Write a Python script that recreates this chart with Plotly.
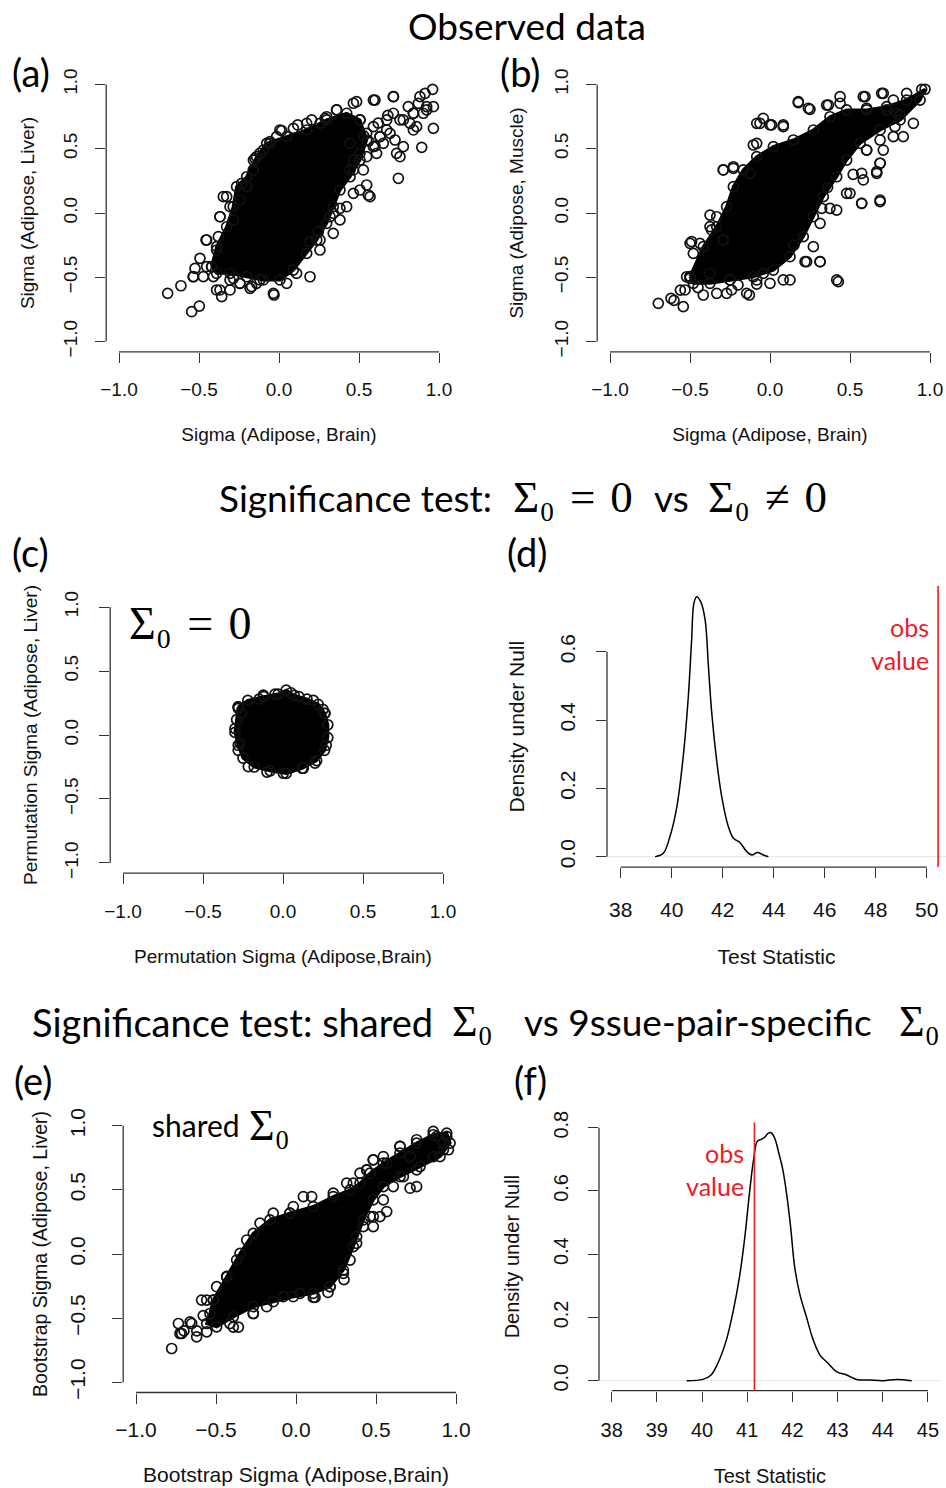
import plotly.graph_objects as go

W, H = 946, 1488

# ------------------------------------------------------------------ data
sig_ticks = [-1.0, -0.5, 0.0, 0.5, 1.0]
sig_ticktext = ["\u22121.0", "\u22120.5", "0.0", "0.5", "1.0"]

# (a) Sigma(Adipose,Brain) vs Sigma(Adipose,Liver): dense core outline + visible circles
a_core_x = [-0.421, -0.39, -0.327, -0.286, -0.265, -0.202, -0.14, -0.077, 0.048, 0.173, 0.298,
            0.423, 0.506, 0.548, 0.506, 0.444, 0.381, 0.339, 0.298, 0.236, 0.173, 0.089, 0.006,
            -0.098, -0.202, -0.306, -0.39]
a_core_y = [-0.418, -0.262, -0.107, 0.049, 0.205, 0.282, 0.438, 0.542, 0.594, 0.646, 0.724,
            0.776, 0.724, 0.568, 0.412, 0.282, 0.179, 0.049, -0.08, -0.21, -0.314, -0.444, -0.521,
            -0.521, -0.496, -0.469, -0.469]
a_pts_x = [-0.696, -0.613, -0.546, -0.498, -0.525, -0.535, -0.473, -0.369, -0.358, -0.306, -0.244,
           -0.171, -0.031, -0.119, -0.41, -0.456, -0.39, -0.369, -0.327, -0.244, -0.285, -0.202,
           -0.16, -0.098, -0.056, 0.017, 0.117, 0.204, 0.288, 0.36, 0.485, 0.6, 0.715, 0.808,
           0.871, 0.913, 0.96, 0.902, 0.965, 0.892, 0.84, 0.777, 0.746, 0.558, 0.548, 0.527,
           0.465, 0.381, 0.465, 0.61, 0.652, 0.694, 0.756, 0.725, 0.777, 0.819, 0.673, 0.59,
           0.444, 0.34, 0.246, 0.194, 0.506, 0.548, 0.631, 0.735, 0.86, 0.84, 0.923, 0.881,
           0.715, 0.444, 0.506, 0.56, 0.62, 0.68, 0.53, 0.6, -0.379, -0.306, -0.233, -0.15,
           -0.015, 0.09, 0.256, 0.319, 0.256, 0.11, -0.14, -0.285, -0.452,
           -0.348, -0.369, -0.452, -0.494, -0.536, -0.39, -0.306, -0.244, -0.181, -0.035, 0.048,
           0.194, 0.256, 0.339, 0.381, 0.423, 0.506, 0.569, 0.465, 0.548, 0.59, 0.631, 0.673,
           0.756, 0.84, 0.923, 0.965, 0.715, 0.59, 0.465, 0.36, 0.298, 0.173, 0.006, -0.056,
           -0.119, -0.161]
a_pts_y = [-0.625, -0.566, -0.768, -0.724, -0.431, -0.495, -0.495, -0.599, -0.651, -0.599, -0.547,
           -0.573, -0.638, -0.521, -0.495, -0.21, -0.288, -0.029, 0.127, 0.101, -0.054, 0.205,
           0.412, 0.49, 0.555, 0.641, 0.685, 0.724, 0.737, 0.802, 0.866, 0.879, 0.905, 0.828,
           0.853, 0.931, 0.962, 0.776, 0.659, 0.511, 0.646, 0.724, 0.27, 0.14, 0.218, 0.335,
           0.412, 0.036, 0.153, 0.464, 0.542, 0.62, 0.438, 0.568, 0.516, 0.698, 0.724, 0.672,
           0.335, -0.003, -0.145, -0.223, 0.724, 0.62, 0.594, 0.464, 0.672, 0.776, 0.828, 0.905,
           0.776, 0.542, 0.464, 0.56, 0.7, 0.76, 0.6, 0.52, -0.184, 0.049, 0.231, 0.425,
           0.594, 0.659, 0.698, -0.029, -0.21, -0.47, -0.547, -0.508, -0.418,
           0.127, -0.029, -0.21, -0.353, -0.496, -0.599, -0.521, -0.547, -0.586, -0.625, -0.547,
           -0.496, -0.288, -0.158, -0.054, 0.049, 0.179, 0.127, 0.335, 0.438, 0.516, 0.594, 0.646,
           0.724, 0.776, 0.802, 0.827, 0.905, 0.879, 0.854, 0.802, 0.749, 0.698, 0.646, 0.542,
           0.465, 0.335]

# (b) Sigma(Adipose,Brain) vs Sigma(Adipose,Muscle)
b_core_x = [-0.5, -0.417, -0.333, -0.271, -0.229, -0.167, -0.083, 0.021, 0.146, 0.271, 0.375,
            0.479, 0.604, 0.729, 0.854, 0.969, 0.938, 0.813, 0.688, 0.563, 0.479, 0.417, 0.333,
            0.271, 0.208, 0.125, 0.021, -0.104, -0.25, -0.375, -0.479]
b_core_y = [-0.495, -0.262, -0.107, 0.049, 0.205, 0.335, 0.438, 0.516, 0.568, 0.646, 0.749,
            0.802, 0.802, 0.827, 0.879, 0.963, 0.879, 0.724, 0.646, 0.542, 0.412, 0.282, 0.127,
            -0.029, -0.184, -0.34, -0.444, -0.496, -0.521, -0.547, -0.547]
b_pts_x = [-0.698, -0.619, -0.542, -0.531, -0.5, -0.417, -0.333, -0.271, -0.24, -0.129, -0.083,
           0.0, 0.083, -0.042, 0.313, 0.219, 0.427, 0.573, 0.688, 0.583, 0.667, 0.688, 0.708,
           0.604, 0.479, 0.375, 0.323, -0.375, -0.375, -0.49, -0.438, -0.292, -0.229, -0.104,
           -0.083, -0.042, 0.01, 0.083, 0.177, 0.25, 0.365, 0.438, 0.594, 0.698, 0.771, 0.813,
           0.833, 0.781, 0.729, 0.854, 0.948, -0.56, -0.6, -0.45, 0.52, 0.36, 0.15, -0.2,
           -0.063, 0.0, -0.083, 0.083, 0.177, 0.24, 0.354, 0.438, 0.583, 0.708, 0.604, 0.792,
           0.896, 0.771, 0.688, 0.604, 0.688, 0.667, 0.573, 0.573, 0.688, 0.5, 0.417, 0.313,
           0.271, 0.229, 0.313, 0.417, 0.125, -0.083, -0.146, -0.25, -0.375, -0.5, -0.479,
           -0.521, -0.292, -0.229, -0.125, -0.333, -0.365, -0.292]
b_pts_y = [-0.703, -0.664, -0.729, -0.599, -0.508, -0.638, -0.625, -0.625, -0.599, -0.638, -0.553,
           -0.547, -0.521, -0.47, -0.379, -0.379, -0.534, 0.075, 0.088, 0.257, 0.322, 0.387, 0.49,
           0.49, 0.153, 0.036, 0.036, -0.016, -0.106, -0.223, -0.236, 0.335, 0.348, 0.529,
           0.698, 0.737, 0.685, 0.672, 0.859, 0.807, 0.84, 0.905, 0.905, 0.931, 0.879, 0.763,
           0.594, 0.672, 0.802, 0.931, 0.962, -0.6, -0.68, -0.58, 0.3, 0.2, -0.25, -0.56,
           0.698, 0.685, 0.542, 0.685, 0.866, 0.815, 0.84, 0.854, 0.905, 0.931, 0.815, 0.776,
           0.698, 0.594, 0.568, 0.49, 0.387, 0.309, 0.309, 0.075, 0.101, 0.153, 0.023, -0.08,
           -0.262, -0.379, -0.379, -0.521, -0.521, -0.521, -0.625, -0.521, -0.469, -0.236, -0.314,
           -0.496, 0.335, 0.36, 0.309, -0.029, -0.132, -0.21]

# (c) permutation sigma
c_core_x = [-0.28, -0.22, -0.12, -0.03, 0.02, 0.07, 0.15, 0.22, 0.26, 0.28, 0.28, 0.26, 0.21,
            0.12, 0.02, -0.08, -0.18, -0.25, -0.28, -0.30, -0.29]
c_core_y = [0.22, 0.27, 0.30, 0.32, 0.35, 0.31, 0.28, 0.24, 0.17, 0.08, -0.02, -0.12, -0.2,
            -0.26, -0.30, -0.28, -0.25, -0.18, -0.08, 0.02, 0.12]
c_pts_x = [-0.279, -0.123, -0.05, -0.217, 0.002, 0.127, -0.269, 0.263, 0.19, -0.3, -0.28, 0.27,
           0.25, 0.1, -0.15, -0.1, 0.2, 0.05, -0.26]
c_pts_y = [0.208, 0.312, 0.319, -0.247, -0.299, -0.26, -0.065, 0.169, 0.27, 0.05, -0.12, -0.08,
           0.2, 0.3, 0.28, -0.29, -0.22, 0.33, 0.17]

# (d) null density, test statistic Sigma0 = 0
d_stat = [39.35, 39.67, 39.93, 40.20, 40.46, 40.65, 40.78, 40.87, 40.98, 41.14, 41.31, 41.44,
          41.57, 41.76, 41.96, 42.22, 42.42, 42.68, 42.94, 43.14, 43.36, 43.59, 43.79]
d_dens = [0.0, 0.01, 0.059, 0.146, 0.30, 0.468, 0.634, 0.742, 0.761, 0.746, 0.693, 0.556,
          0.42, 0.283, 0.176, 0.088, 0.054, 0.041, 0.015, 0.005, 0.012, 0.005, 0.0]
d_obs = 50.45
d_xticks = [38, 40, 42, 44, 46, 48, 50]
d_yticks = [0.0, 0.2, 0.4, 0.6]
d_yticktext = ["0.0", "0.2", "0.4", "0.6"]

# (e) bootstrap sigma
e_core_x = [-0.517, -0.433, -0.35, -0.267, -0.163, -0.038, 0.108, 0.233, 0.338, 0.4, 0.463,
            0.546, 0.65, 0.754, 0.858, 0.942, 0.963, 0.9, 0.775, 0.65, 0.546, 0.483, 0.421,
            0.358, 0.296, 0.213, 0.108, -0.017, -0.142, -0.267, -0.392, -0.496, -0.558, -0.538]
e_core_y = [-0.359, -0.177, 0.005, 0.161, 0.266, 0.318, 0.37, 0.448, 0.5, 0.552, 0.63, 0.708,
            0.786, 0.865, 0.93, 0.943, 0.865, 0.76, 0.682, 0.604, 0.526, 0.422, 0.266, 0.057,
            -0.125, -0.255, -0.307, -0.333, -0.372, -0.411, -0.49, -0.568, -0.542, -0.464]
e_pts_x = [-0.777, -0.735, -0.725, -0.662, -0.590, -0.496, -0.433, -0.392, -0.360, -0.267,
           -0.038, 0.046, 0.098, 0.108, 0.483, 0.567, 0.483, 0.379, 0.713, 0.754, 0.879, 0.921,
           0.952, 0.713, 0.650, 0.567, 0.483, 0.442, 0.400, 0.317, -0.62, -0.58, -0.7, 0.2, 0.3,
           -0.715, -0.652, -0.621, -0.558, -0.413, -0.267, -0.183, -0.079, 0.025, 0.119, 0.213,
           0.296, 0.338, 0.379, 0.421, 0.463, 0.525, 0.546, 0.608, 0.671, 0.754, 0.858, 0.921,
           0.942, 0.858, 0.754, 0.65, 0.546, 0.483, 0.442, 0.358, 0.233, -0.017, -0.142, -0.225,
           -0.308, -0.371, -0.433, -0.558]
e_pts_y = [-0.737, -0.542, -0.620, -0.529, -0.359, -0.255, -0.177, -0.570, -0.570, -0.464,
           0.318, 0.448, 0.448, -0.339, 0.214, 0.331, 0.292, 0.135, 0.513, 0.526, 0.917, 0.865,
           0.813, 0.760, 0.839, 0.708, 0.734, 0.656, 0.630, 0.552, -0.6, -0.48, -0.6, -0.3, -0.2,
           -0.62, -0.542, -0.646, -0.607, -0.542, -0.464, -0.411, -0.333, -0.307, -0.339, -0.255,
           -0.151, -0.047, 0.083, 0.214, 0.292, 0.292, 0.422, 0.526, 0.604, 0.656, 0.76, 0.813,
           0.917, 0.956, 0.891, 0.839, 0.76, 0.734, 0.656, 0.552, 0.474, 0.37, 0.318, 0.24,
           0.109, -0.047, -0.177, -0.359]

# (f) null density, shared vs tissue-pair-specific
f_stat = [39.66, 40.02, 40.20, 40.35, 40.54, 40.68, 40.83, 40.94, 41.05, 41.14, 41.22, 41.31,
          41.39, 41.46, 41.53, 41.61, 41.70, 41.79, 41.87, 41.96, 42.05, 42.16, 42.31, 42.46,
          42.61, 42.79, 42.98, 43.20, 43.42, 43.71, 44.01, 44.31, 44.64]
f_dens = [0.0, 0.004, 0.018, 0.055, 0.129, 0.213, 0.329, 0.445, 0.593, 0.698, 0.756, 0.763,
          0.770, 0.782, 0.784, 0.766, 0.719, 0.666, 0.593, 0.487, 0.360, 0.276, 0.202, 0.129,
          0.081, 0.055, 0.028, 0.018, 0.004, 0.002, 0.0, 0.004, 0.0]
f_obs = 41.16
f_xticks = [38, 39, 40, 41, 42, 43, 44, 45]
f_yticks = [0.0, 0.2, 0.4, 0.6, 0.8]
f_yticktext = ["0.0", "0.2", "0.4", "0.6", "0.8"]

# ------------------------------------------------------------------ layout helpers
RF = "Liberation Sans"   # R text
CF = "Lato"              # Calibri-like text
MF = "Liberation Serif"  # math
AXC = "#333333"


def px(x):
    return x / W


def py(y):
    return 1 - y / H


panels = {
    "a": dict(box=(106.2, 451.8, 74.2, 351.8), xr=[-1.08, 1.08], yr=[-1.08, 1.08],
              xt=sig_ticks, xtt=sig_ticktext, yt=sig_ticks, ytt=sig_ticktext, fs=19, yfs=19,
              xls=10, yls=11, xtitle="Sigma (Adipose, Brain)", ytitle="Sigma (Adipose, Liver)",
              xts=29, yts=19),
    "b": dict(box=(597.2, 942.8, 74.2, 351.8), xr=[-1.08, 1.08], yr=[-1.08, 1.08],
              xt=sig_ticks, xtt=sig_ticktext, yt=sig_ticks, ytt=sig_ticktext, fs=19, yfs=19,
              xls=10, yls=11, xtitle="Sigma (Adipose, Brain)", ytitle="Sigma (Adipose, Muscle)",
              xts=29, yts=21),
    "c": dict(box=(110.2, 455.8, 596.8, 873.2), xr=[-1.08, 1.08], yr=[-1.08, 1.08],
              xt=sig_ticks, xtt=sig_ticktext, yt=sig_ticks, ytt=sig_ticktext, fs=19, yfs=19,
              xls=11, yls=14, xtitle="Permutation Sigma (Adipose,Brain)",
              ytitle="Permutation Sigma (Adipose, Liver)", xts=28, yts=17),
    "d": dict(box=(607.0, 946.0, 586.1, 867.1), xr=[37.46, 50.76], yr=[-0.0305, 0.792],
              xt=d_xticks, xtt=[str(v) for v in d_xticks], yt=d_yticks, ytt=d_yticktext, fs=21,
              yfs=21, xls=14, yls=13, xtitle="Test Statistic", ytitle="Density under Null",
              xts=29, yts=25),
    "e": dict(box=(123.2, 468.8, 1115.5, 1392.5), xr=[-1.08, 1.08], yr=[-1.08, 1.08],
              xt=sig_ticks, xtt=sig_ticktext, yt=sig_ticks, ytt=sig_ticktext, fs=21, yfs=19.5,
              xls=8, yls=19, xtitle="Bootstrap Sigma (Adipose,Brain)",
              ytitle="Bootstrap Sigma (Adipose, Liver)", xts=27, yts=12),
    "f": dict(box=(599.0, 940.6, 1122.6, 1390.6), xr=[37.72, 45.28], yr=[-0.0314, 0.816],
              xt=f_xticks, xtt=[str(v) for v in f_xticks], yt=f_yticks, ytt=f_yticktext, fs=20,
              yfs=20, xls=11, yls=12, xtitle="Test Statistic", ytitle="Density under Null",
              xts=29, yts=24),
}
order = ["a", "b", "c", "d", "e", "f"]

fig = go.Figure()
layout = dict(width=W, height=H, margin=dict(l=0, r=0, t=0, b=0, pad=0, autoexpand=False),
              paper_bgcolor="white", plot_bgcolor="white", showlegend=False)
shapes = []

for i, k in enumerate(order, start=1):
    p = panels[k]
    l, r, t, b = p["box"]
    fs = p["fs"]
    sx = "" if i == 1 else str(i)
    tf = dict(family=RF, size=fs, color="#111")
    ytf = dict(family=RF, size=p["yfs"], color="#111")
    layout["xaxis" + sx] = dict(domain=[px(l), px(r)], range=p["xr"], anchor="y" + sx,
                                automargin=False, showline=False, showgrid=False, zeroline=False,
                                ticks="outside", ticklen=10, tickwidth=1.3, tickcolor=AXC,
                                tickvals=p["xt"], ticktext=p["xtt"], ticklabelstandoff=p["xls"],
                                tickfont=tf, fixedrange=True,
                                title=dict(text=p["xtitle"], font=tf, standoff=p["xts"]))
    layout["yaxis" + sx] = dict(domain=[py(b), py(t)], range=p["yr"], anchor="x" + sx,
                                automargin=False, showline=False, showgrid=False, zeroline=False,
                                ticks="outside", ticklen=10, tickwidth=1.3, tickcolor=AXC,
                                tickvals=p["yt"], ticktext=p["ytt"], tickangle=-90,
                                ticklabelstandoff=p["yls"], tickfont=tf, fixedrange=True,
                                title=dict(text=p["ytitle"], font=ytf, standoff=p["yts"]))
    # R-style detached axis lines spanning first..last tick
    shapes.append(dict(type="line", xref="x" + sx, yref="y" + sx + " domain",
                       x0=p["xt"][0], x1=p["xt"][-1], y0=0, y1=0, line=dict(color=AXC, width=1.3)))
    shapes.append(dict(type="line", xref="x" + sx + " domain", yref="y" + sx,
                       x0=0, x1=0, y0=p["yt"][0], y1=p["yt"][-1], line=dict(color=AXC, width=1.3)))

marker = dict(symbol="circle-open", size=10, color="#111", line=dict(width=1.7, color="#111"))


def cloud(cx, cy, ptx, pty, ax):
    xs = "x" if ax == 1 else "x%d" % ax
    ys = "y" if ax == 1 else "y%d" % ax
    fig.add_trace(go.Scatter(x=cx + cx[:1], y=cy + cy[:1], mode="lines+markers", fill="toself",
                             fillcolor="black", line=dict(color="black", width=3),
                             marker=marker, xaxis=xs, yaxis=ys, hoverinfo="skip"))
    fig.add_trace(go.Scatter(x=ptx, y=pty, mode="markers", marker=marker,
                             xaxis=xs, yaxis=ys, hoverinfo="skip"))


cloud(a_core_x, a_core_y, a_pts_x, a_pts_y, 1)
cloud(b_core_x, b_core_y, b_pts_x, b_pts_y, 2)
cloud(c_core_x, c_core_y, c_pts_x, c_pts_y, 3)
cloud(e_core_x, e_core_y, e_pts_x, e_pts_y, 5)

# density curves
fig.add_trace(go.Scatter(x=d_stat, y=d_dens, mode="lines", line=dict(color="black", width=1.5, shape="spline"),
                         xaxis="x4", yaxis="y4", hoverinfo="skip"))
fig.add_trace(go.Scatter(x=f_stat, y=f_dens, mode="lines", line=dict(color="black", width=1.5, shape="spline"),
                         xaxis="x6", yaxis="y6", hoverinfo="skip"))

# zero lines and observed values
for sx, obs in (("4", d_obs), ("6", f_obs)):
    shapes.append(dict(type="line", xref="x" + sx + " domain", yref="y" + sx, x0=0, x1=1, y0=0, y1=0,
                       line=dict(color="#e6e6e6", width=1), layer="below"))
    shapes.append(dict(type="line", xref="x" + sx, yref="y" + sx + " domain", x0=obs, x1=obs, y0=0, y1=1,
                       line=dict(color="#ee1c25", width=1.6)))

layout["shapes"] = shapes

ann = []


def text(s, x, y, size, family=CF, color="black", xanchor="left", align="left"):
    ann.append(dict(text=s, x=px(x), y=py(y), xref="paper", yref="paper", showarrow=False,
                    xanchor=xanchor, yanchor="middle", align=align,
                    font=dict(family=family, size=size, color=color)))


SP = "\u2004"
S0 = "\u03a3\u2080"
# section titles
text("Observed data", 527, 26, 37, xanchor="center", align="center")
text("Significance test:", 217, 497, 37)
text(S0 + SP + "=" + SP + "0", 511, 497, 45, MF)
text("vs", 652, 497, 37)
text(S0 + SP + "\u2260" + SP + "0", 706, 497, 45, MF)
text("Significance test: shared", 30, 1022, 38)
text(S0, 450, 1022, 44, MF)
text("vs 9ssue-pair-specific", 522, 1022, 37)
text(S0, 897, 1022, 44, MF)

# panel letters
text("(a)", 10, 72, 38)
text("(b)", 498, 72, 38)
text("(c)", 10, 552, 38)
text("(d)", 505, 552, 38)
text("(e)", 12, 1080, 38)
text("(f)", 512, 1080, 38)

# in-panel labels
text(S0 + SP + "=" + SP + "0", 127, 623, 46, MF)
text("shared", 150, 1125, 30)
text(S0, 247, 1125, 44, MF)
text("obs<br>value", 931, 643, 25, color="#ee1c25", xanchor="right", align="right")
text("obs<br>value", 746, 1169, 25, color="#ee1c25", xanchor="right", align="right")

layout["annotations"] = ann
fig.update_layout(**layout)
fig.write_html("out.html", config={"displayModeBar": False, "responsive": False},
               post_script="document.body.style.margin='0';document.body.style.overflow='hidden';")
